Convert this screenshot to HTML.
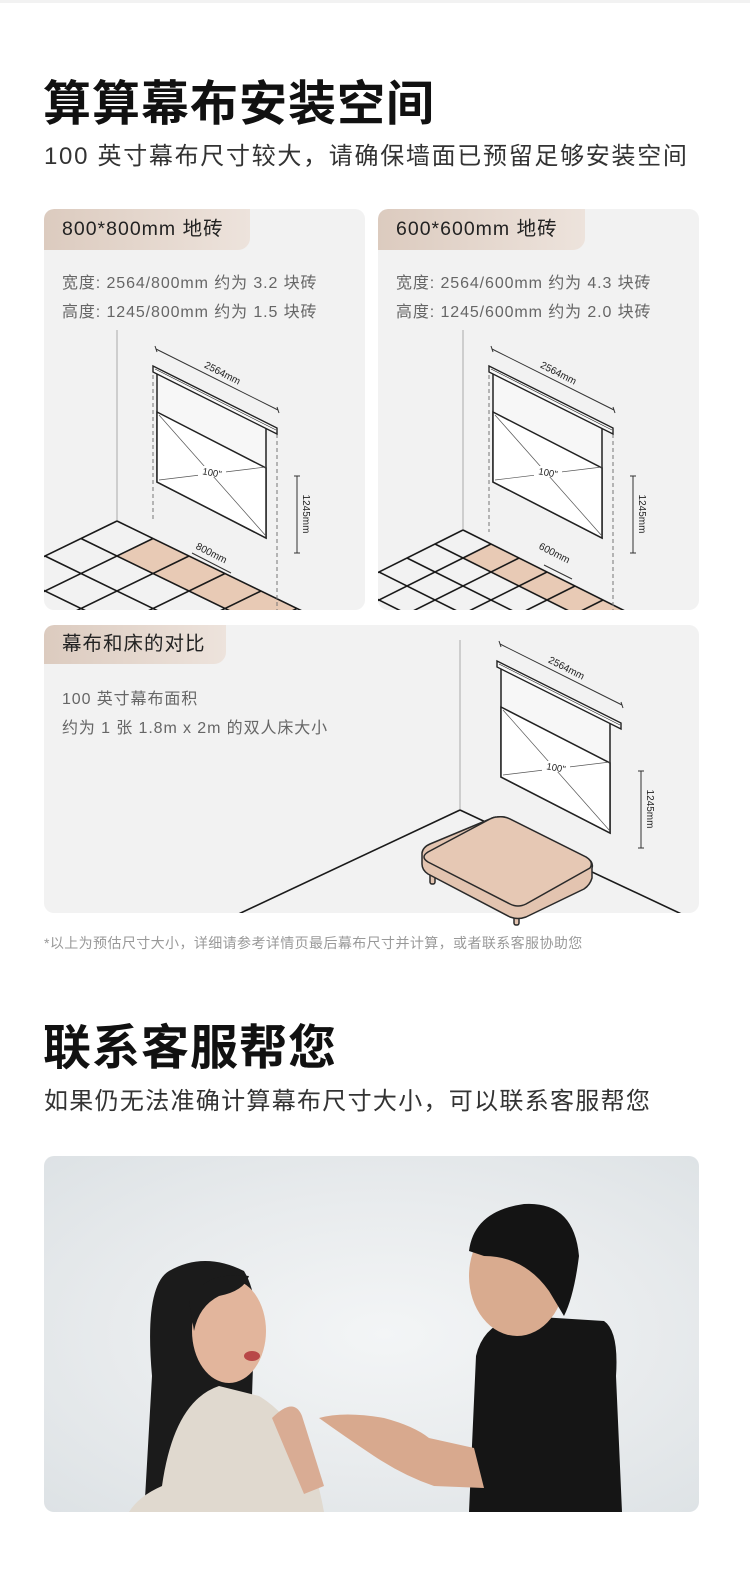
<!DOCTYPE html>
<html><head><meta charset="utf-8"><style>
*{margin:0;padding:0;box-sizing:border-box}
body{width:750px;height:1583px;background:#fff;position:relative;overflow:hidden;font-family:"Liberation Sans","Noto Sans CJK SC",sans-serif;color:#1a1a1a}
.t{position:absolute;white-space:nowrap}
.card{position:absolute;background:#f2f2f2;border-radius:10px;overflow:hidden}
.tab{position:absolute;left:0;top:0;height:41px;background:linear-gradient(90deg,#dccbbf,#ede3dc);border-radius:10px 0 12px 0;font-size:19.5px;line-height:41px;padding-left:18px;color:#222;letter-spacing:1px}
.info{position:absolute;left:18px;font-size:16px;color:#666;line-height:29px;letter-spacing:0.9px}
</style></head><body>
<div style="position:absolute;left:0;top:0;width:750px;height:3px;background:#f2f2f2"></div>
<div class="t" style="left:43px;top:64px;font-size:48px;font-weight:bold;color:#111;letter-spacing:1px">算算幕布安装空间</div>
<div class="t" style="left:44px;top:136px;font-size:24px;color:#333;letter-spacing:1.7px">100 英寸幕布尺寸较大，请确保墙面已预留足够安装空间</div>

<div class="card" style="left:44px;top:209px;width:321px;height:401px">
<div class="tab" style="width:206px">800*800mm 地砖</div>
<div class="info" style="top:60px">宽度: 2564/800mm 约为 3.2 块砖<br>高度: 1245/800mm 约为 1.5 块砖</div>
</div>
<div class="card" style="left:378px;top:209px;width:321px;height:401px">
<div class="tab" style="width:207px">600*600mm 地砖</div>
<div class="info" style="top:60px">宽度: 2564/600mm 约为 4.3 块砖<br>高度: 1245/600mm 约为 2.0 块砖</div>
</div>
<div class="card" style="left:44px;top:625px;width:655px;height:288px">
<div class="tab" style="width:182px;height:39px;line-height:39px">幕布和床的对比</div>
<div class="info" style="top:60px">100 英寸幕布面积<br>约为 1 张 1.8m x 2m 的双人床大小</div>
</div>

<svg width="750" height="1583" style="position:absolute;left:0;top:0" xmlns="http://www.w3.org/2000/svg">
<defs>
<clipPath id="c1"><rect x="44" y="209" width="321" height="401" rx="10"/></clipPath>
<clipPath id="c2"><rect x="378" y="209" width="321" height="401" rx="10"/></clipPath>
<clipPath id="c3"><rect x="44" y="625" width="655" height="288" rx="10"/></clipPath>
<g id="scr">
<polygon points="157,372 266,428 266,538 157,482" fill="#f7f7f7" stroke="#222" stroke-width="1.5"/>
<polygon points="157,412 266,468 266,538 157,482" fill="#fff" stroke="#222" stroke-width="1.5"/>
<line x1="159" y1="415" x2="266" y2="536" stroke="#555" stroke-width="0.7"/>
<line x1="159" y1="480" x2="266" y2="467" stroke="#555" stroke-width="0.7"/>
<rect x="198" y="466" width="28" height="11" fill="#fff"/>
<text x="212" y="476" font-size="9.5" text-anchor="middle" fill="#222" transform="rotate(10 212 473)">100"</text>
<polygon points="153,366 277,428 277,434 153,372" fill="#fafafa" stroke="#222" stroke-width="1.4"/>
<line x1="155" y1="369" x2="276" y2="430" stroke="#222" stroke-width="0.6"/>
<line x1="156" y1="349" x2="278" y2="410" stroke="#333" stroke-width="1"/>
<line x1="155" y1="346" x2="157" y2="352" stroke="#333"/>
<line x1="277" y1="407" x2="279" y2="413" stroke="#333"/>
<text x="221" y="376" font-size="10" text-anchor="middle" fill="#222" transform="rotate(27 221 376)">2564mm</text>
<line x1="297" y1="476" x2="297" y2="553" stroke="#333"/>
<line x1="294" y1="476" x2="300" y2="476" stroke="#333"/>
<line x1="294" y1="553" x2="300" y2="553" stroke="#333"/>
<text x="303" y="514" font-size="10" text-anchor="middle" fill="#222" transform="rotate(90 303 514)">1245mm</text>
</g>
</defs>

<g clip-path="url(#c1)" stroke="#1a1a1a" stroke-width="1.6" fill="none">
<line x1="117" y1="330" x2="117" y2="521" stroke="#aaa" stroke-width="1"/>
<polygon points="153,538.5 297,608.5 261,626 117,556" fill="#e8cab5" stroke="none"/>
<line x1="117" y1="521" x2="405" y2="661"/>
<line x1="81" y1="538.5" x2="369" y2="678.5"/>
<line x1="45" y1="556" x2="333" y2="696"/>
<line x1="9" y1="573.5" x2="297" y2="713.5"/>
<line x1="-27" y1="591" x2="261" y2="731"/>
<line x1="117" y1="521" x2="-99" y2="626"/>
<line x1="153" y1="538.5" x2="-63" y2="643.5"/>
<line x1="189" y1="556" x2="-27" y2="661"/>
<line x1="225" y1="573.5" x2="9" y2="678.5"/>
<line x1="261" y1="591" x2="45" y2="696"/>
<line x1="297" y1="608.5" x2="81" y2="713.5"/>
<line x1="153" y1="375" x2="153" y2="520" stroke="#777" stroke-width="1" stroke-dasharray="4,3"/>
<line x1="277" y1="434" x2="277" y2="610" stroke="#777" stroke-width="1" stroke-dasharray="4,3"/>
</g>
<use href="#scr"/>
<line x1="192" y1="553" x2="231" y2="573" stroke="#333"/>
<text x="210" y="556" font-size="10" text-anchor="middle" fill="#222" transform="rotate(27 210 556)">800mm</text>

<g clip-path="url(#c2)" stroke="#1a1a1a" stroke-width="1.6" fill="none">
<line x1="463" y1="330" x2="463" y2="530" stroke="#aaa" stroke-width="1"/>
<polygon points="491,544 631,614 603,628 463,558" fill="#e8cab5" stroke="none"/>
<line x1="463" y1="530" x2="743" y2="670"/>
<line x1="435" y1="544" x2="715" y2="684"/>
<line x1="407" y1="558" x2="687" y2="698"/>
<line x1="379" y1="572" x2="659" y2="712"/>
<line x1="351" y1="586" x2="631" y2="726"/>
<line x1="463" y1="530" x2="295" y2="614"/>
<line x1="491" y1="544" x2="323" y2="628"/>
<line x1="519" y1="558" x2="351" y2="642"/>
<line x1="547" y1="572" x2="379" y2="656"/>
<line x1="575" y1="586" x2="407" y2="670"/>
<line x1="603" y1="600" x2="435" y2="684"/>
<line x1="489" y1="375" x2="489" y2="532" stroke="#777" stroke-width="1" stroke-dasharray="4,3"/>
<line x1="613" y1="434" x2="613" y2="610" stroke="#777" stroke-width="1" stroke-dasharray="4,3"/>
</g>
<use href="#scr" transform="translate(336,0)"/>
<line x1="544" y1="565" x2="572" y2="579" stroke="#333"/>
<text x="553" y="556" font-size="10" text-anchor="middle" fill="#222" transform="rotate(27 553 556)">600mm</text>

<g clip-path="url(#c3)" stroke="#1a1a1a" stroke-width="1.6" fill="none">
<line x1="460" y1="640" x2="460" y2="810" stroke="#aaa" stroke-width="1"/>
<line x1="460" y1="810" x2="690" y2="918"/>
<line x1="460" y1="810" x2="230" y2="918"/>
</g>
<use href="#scr" transform="translate(344,295)"/>
<g stroke="#2a2a2a" stroke-width="1.5" stroke-linejoin="round">
<rect x="430" y="866" width="5" height="18" rx="2" fill="#e3c4b0"/>
<rect x="514" y="905" width="5" height="20" rx="2" fill="#e3c4b0"/>
<rect x="576" y="872" width="5" height="16" rx="2" fill="#e3c4b0"/>
<path d="M497,817 Q504,816 510,819 L586,857 Q594,862 592,868 L592,878 Q590,885 584,889 L526,917 Q518,920 510,917 L428,874 Q422,870 422,864 L422,853 Q423,847 430,844 L490,819 Q494,817 497,817 Z" fill="#e3c4b0"/>
<path d="M497,817 Q504,816 510,819 L586,857 Q594,862 590,868 L526,904 Q518,908 510,904 L428,862 Q420,857 428,852 L490,819 Q494,817 497,817 Z" fill="#e6c8b4"/>
</g>
</svg>

<div class="t" style="left:44px;top:933px;font-size:14px;color:#999;letter-spacing:0.4px">*以上为预估尺寸大小，详细请参考详情页最后幕布尺寸并计算，或者联系客服协助您</div>
<div class="t" style="left:43px;top:1008px;font-size:48px;font-weight:bold;color:#111;letter-spacing:1px">联系客服帮您</div>
<div class="t" style="left:44px;top:1081px;font-size:24px;color:#333;letter-spacing:1.3px">如果仍无法准确计算幕布尺寸大小，可以联系客服帮您</div>

<div style="position:absolute;left:44px;top:1156px;width:655px;height:356px;border-radius:10px;overflow:hidden;background:radial-gradient(ellipse at 52% 50%,#f3f5f6 0%,#e8ebed 55%,#dde2e5 100%)">
<svg width="655" height="356" style="position:absolute;left:0;top:0">
<path d="M108,220 Q100,130 125,115 Q160,95 200,115 Q215,140 210,180 L205,330 L100,360 Z" fill="#1b1b1b"/>
<path d="M118,330 Q130,245 175,230 L215,240 Q265,270 280,356 L85,356 Q95,340 118,330 Z" fill="#e0d9cf"/>
<path d="M228,262 Q250,240 258,260 L280,330 L260,338 Z" fill="#d9ac94"/>
<ellipse cx="185" cy="175" rx="37" ry="52" fill="#e2b59c"/>
<path d="M145,145 Q160,115 205,120 Q200,135 175,140 Q155,150 150,175 Z" fill="#1b1b1b"/>
<ellipse cx="208" cy="200" rx="8" ry="5" fill="#b84747"/>
<path d="M432,200 Q440,165 480,160 L560,165 Q575,175 572,220 L578,356 L425,356 Z" fill="#151515"/>
<path d="M275,262 Q300,255 340,262 Q370,270 385,282 L430,292 L440,332 L390,330 Q360,320 330,300 Q300,280 275,262 Z" fill="#d8a98e"/>
<ellipse cx="473" cy="120" rx="48" ry="60" fill="#d9ab8f"/>
<path d="M425,95 Q430,55 480,48 Q530,45 535,100 Q530,140 520,160 L505,135 Q480,100 440,100 Z" fill="#141414"/>
</svg>
</div>
</body></html>
